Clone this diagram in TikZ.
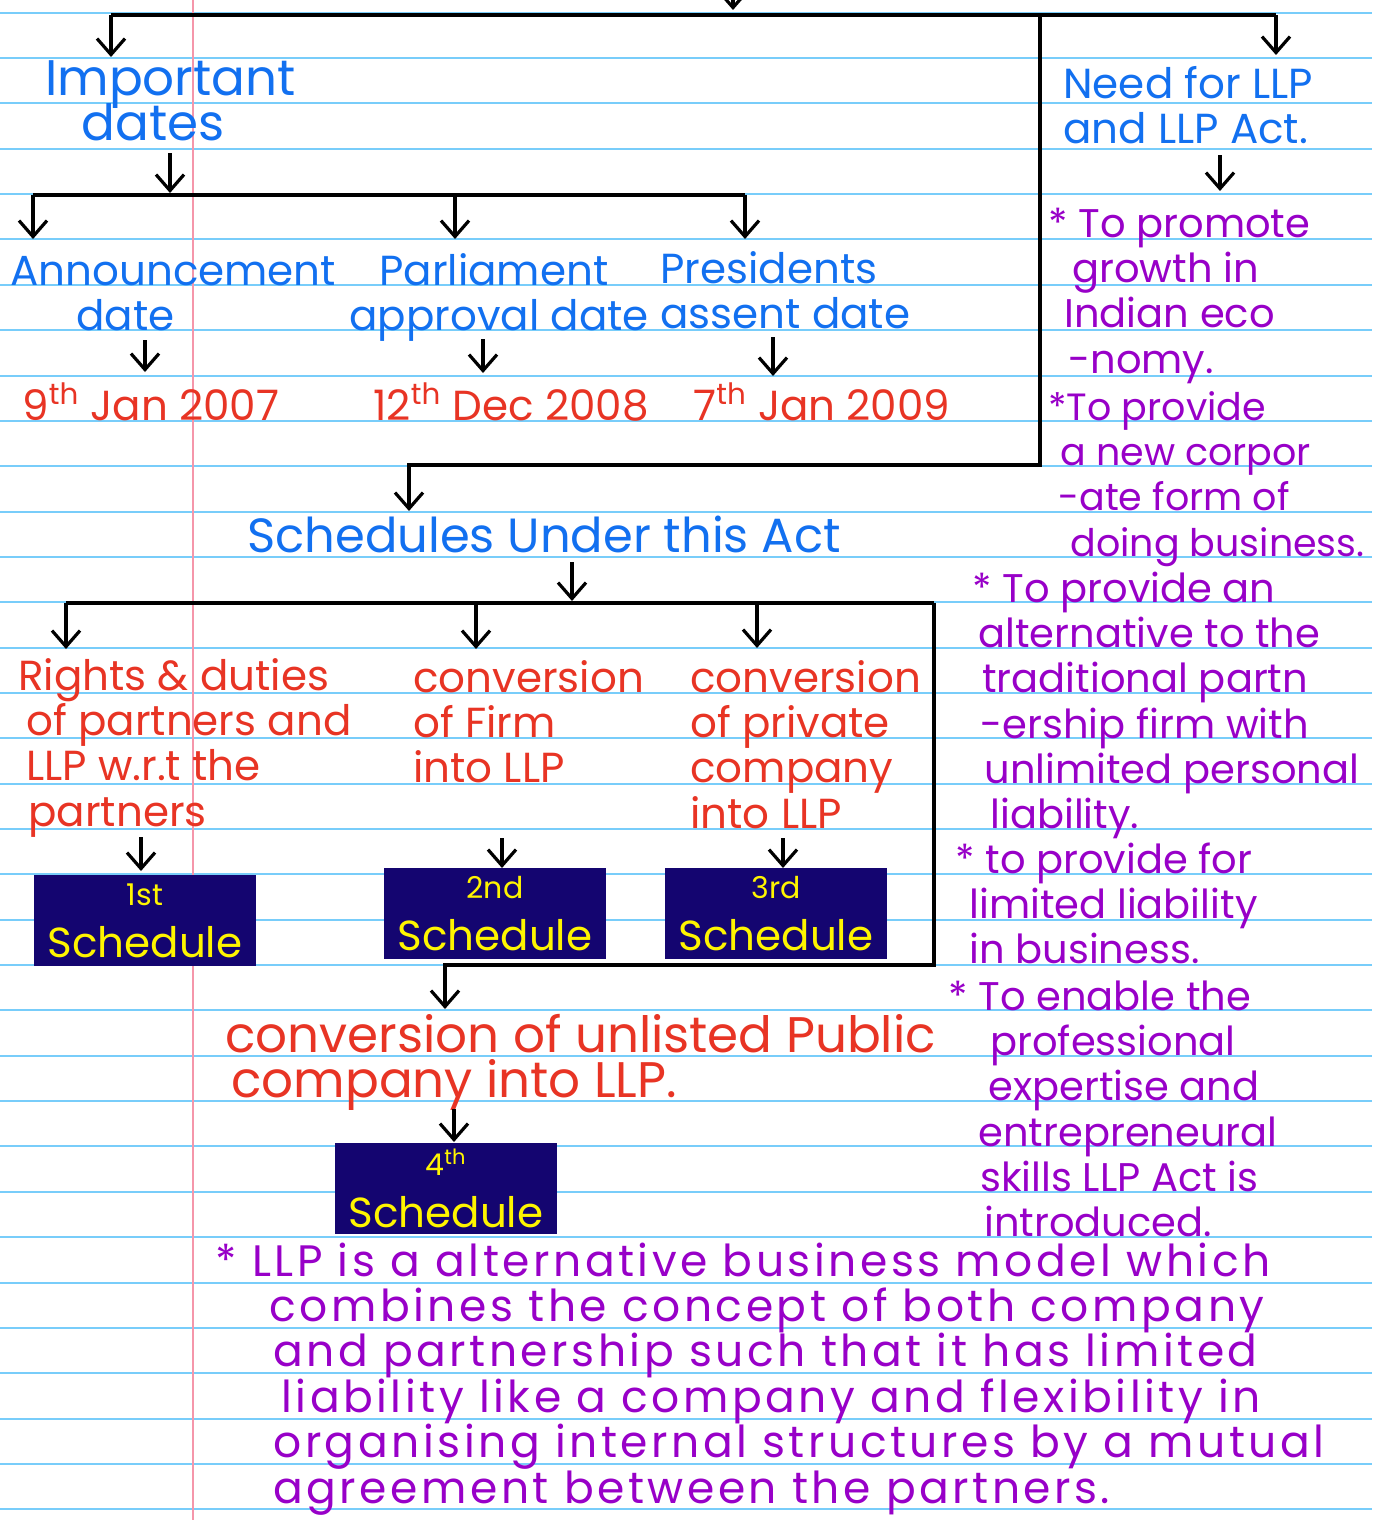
\documentclass[tikz,border=0pt]{standalone}
\usepackage{fontspec}
\setmainfont{Poppins}
\usepackage{tikz}
\usetikzlibrary{arrows.meta}
\usetikzlibrary{positioning}

\definecolor{inkblue}{RGB}{18,112,240}
\definecolor{inkred}{RGB}{232,52,36}
\definecolor{inkpurple}{RGB}{152,0,200}
\definecolor{ruleblue}{RGB}{120,205,250}
\definecolor{marginpink}{RGB}{245,150,170}
\definecolor{boxnavy}{RGB}{20,5,112}
\definecolor{boxyellow}{RGB}{255,245,0}

% keep every written line on the ruling, even for big letters
\lineskiplimit=-\maxdimen

\begin{document}
\begin{tikzpicture}[x=0.5pt, y=-0.5pt]
            \tikzstyle{arrow} = [line width=1.6pt,-{Straight Barb[length=8pt,width=14pt]}]
            \tikzstyle{link} = [line width=1.6pt]
            \tikzstyle{ruling} = [ruleblue, line width=1pt]
            % nodes sit on the baseline of their last line
            \tikzstyle{hand} = [inner sep=0pt, anchor=base west, align=left]
            \tikzstyle{heading} = [hand, text=inkblue, font=\fontsize{21}{22.675}\selectfont]
            \tikzstyle{entry} = [hand, text=inkred, font=\fontsize{21}{22.675}\selectfont]
            \tikzstyle{remark} = [hand, text=inkpurple, font=\fontsize{20}{22.675}\selectfont]
            \tikzstyle{sched} = [fill=boxnavy, text=boxyellow, minimum width=111pt, minimum height=45.5pt, inner sep=0pt, align=center, font=\fontsize{21}{26}\selectfont]

            % ruled paper
            \useasboundingbox (0,0) rectangle (1372,1520);
            \fill[white] (0,0) rectangle (1372,1520);
            \foreach \k in {0,...,33}
                \draw[ruling] (0,{12.7+45.35*\k}) -- (1372,{12.7+45.35*\k});
            \draw[marginpink, line width=0.8pt] (192.7,0) -- (192.7,1520);

            % headings
            \node[heading, font=\fontsize{25}{22.675}\selectfont] (imp) at (45,140.35) {Important\\\hspace*{18pt}dates};
            \node[heading] (need) at (1063,143.35) {Need for LLP\\and LLP Act.};
            \node[heading] (ann) at (10,330.35) {Announcement\\\hspace*{33pt}date};
            \node[heading] (parl) at (349,330.35) {\hspace*{15pt}Parliament\\approval date};
            \node[heading] (pres) at (660,328.35) {Presidents\\assent date};
            \node[heading, font=\fontsize{24}{22.675}\selectfont] (schs) at (247,552) {Schedules Under this Act};

            % dates
            \node[entry] (d1) at (22,420) {9\textsuperscript{th} Jan 2007};
            \node[entry] (d2) at (373,420) {12\textsuperscript{th} Dec 2008};
            \node[entry] (d3) at (693,420) {7\textsuperscript{th} Jan 2009};

            % schedules
            \node[entry] (rights) at (18,826.05) {Rights \& duties\\\hspace*{4pt}of partners and\\\hspace*{4pt}LLP w.r.t the\\\hspace*{5pt}partners};
            \node[entry] (firm) at (413,782.7) {conversion\\of Firm\\into LLP};
            \node[entry] (priv) at (690,828.05) {conversion\\of private\\company\\into LLP};
            \node[entry, font=\fontsize{25}{22.675}\selectfont] (unl) at (225,1097.35) {conversion of unlisted Public\\\hspace*{3pt}company into LLP.};

            \node[sched] (s1) at (145,920.5) {{\fontsize{15}{15}\selectfont 1st}\\Schedule};
            \node[sched] (s2) at (495,913.5) {{\fontsize{15}{15}\selectfont 2nd}\\Schedule};
            \node[sched] (s3) at (776,913.5) {{\fontsize{15}{15}\selectfont 3rd}\\Schedule};
            \node[sched] (s4) at (446,1188.5) {{\fontsize{15}{15}\selectfont 4\textsuperscript{th}}\\Schedule};

            % need for LLP
            \node[remark] (r1) at (1048,373.05) {* To promote\\\hspace*{12pt}growth in\\\hspace*{8pt}Indian eco\\\hspace*{10pt}-nomy.};
            \node[remark, font=\fontsize{19}{22.675}\selectfont] (r2) at (1048,556.05) {*To provide\\\hspace*{6pt}a new corpor\\\hspace*{5pt}-ate form of\\\hspace*{11pt}doing business.};
            \node[remark] (r3) at (972,828.75) {* To provide an\\\hspace*{3pt}alternative to the\\\hspace*{5pt}traditional partn\\\hspace*{4pt}-ership firm with\\\hspace*{6pt}unlimited personal\\\hspace*{9pt}liability.};
            \node[remark] (r4) at (955,963.7) {* to provide for\\\hspace*{7pt}limited liability\\\hspace*{7pt}in business.};
            \node[remark] (r5) at (948,1236.75) {* To enable the\\\hspace*{21pt}professional\\\hspace*{20pt}expertise and\\\hspace*{15pt}entrepreneural\\\hspace*{16pt}skills LLP Act is\\\hspace*{18pt}introduced.};
            \node[remark, font=\fontsize{22}{22.675}\selectfont\addfontfeatures{LetterSpace=8}] (llp) at (215,1503) {* LLP is a alternative business model which\\\hspace*{27pt}combines the concept of both company\\\hspace*{29pt}and partnership such that it has limited\\\hspace*{33pt}liability like a company and flexibility in\\\hspace*{29pt}organising internal structures by a mutual\\\hspace*{29pt}agreement between the partners.};

            % connectors
            \coordinate (rootA) at (733,-30);
            \coordinate (rootB) at (733,10);
            \coordinate (topL) at (111,15);
            \coordinate (topM) at (1040,15);
            \coordinate (topR) at (1276,15);
            \coordinate (midBend) at (1040,465);
            \coordinate (schsTip) at (409,511);
            \draw[arrow] (rootA) -- (rootB);
            \draw[link] (topL) -- (topR);
            \draw[arrow] (topL) -- (111,57) coordinate (impTip);
            \draw[arrow] (topR) -- (1276,55) coordinate (needTip);
            \draw[arrow] (topM) -- (midBend) -| (schsTip);
            \draw[arrow] (1220,155) coordinate (needOut) -- (1220,191) coordinate (r1Tip);

            \coordinate (impOut) at (170,153);
            \coordinate (dateL) at (33,195);
            \coordinate (dateM) at (455,195);
            \coordinate (dateR) at (745,195);
            \draw[arrow] (impOut) -- (170,193) coordinate (impBar);
            \draw[link] (dateL) -- (dateR);
            \draw[arrow] (dateL) -- (33,239) coordinate (annTip);
            \draw[arrow] (dateM) -- (455,239) coordinate (parlTip);
            \draw[arrow] (dateR) -- (745,239) coordinate (presTip);
            \draw[arrow] (145,340) coordinate (annOut) -- (145,372) coordinate (d1Tip);
            \draw[arrow] (483,339) coordinate (parlOut) -- (483,373) coordinate (d2Tip);
            \draw[arrow] (773,337) coordinate (presOut) -- (773,376) coordinate (d3Tip);

            \coordinate (schsOut) at (572,562);
            \coordinate (schL) at (66,603);
            \coordinate (schR) at (934,603);
            \coordinate (schBend) at (934,965);
            \coordinate (unlTip) at (445,1009);
            \draw[arrow] (schsOut) -- (572,601) coordinate (schBar);
            \draw[link] (schL) -- (schR);
            \draw[arrow] (schL) -- (66,649) coordinate (rightsTip);
            \draw[arrow] (476,603) coordinate (firmTop) -- (476,649) coordinate (firmTip);
            \draw[arrow] (757,603) coordinate (privTop) -- (757,648) coordinate (privTip);
            \draw[arrow] (schR) -- (schBend) -| (unlTip);

            \draw[arrow] (141,837) coordinate (rightsOut) -- (141,871) coordinate (s1Tip);
            \draw[arrow] (502,838) coordinate (firmOut) -- (502,868) coordinate (s2Tip);
            \draw[arrow] (783,838) coordinate (privOut) -- (783,868) coordinate (s3Tip);
            \draw[arrow] (454,1109) coordinate (unlOut) -- (454,1142) coordinate (s4Tip);

        \end{tikzpicture}
\end{document}
